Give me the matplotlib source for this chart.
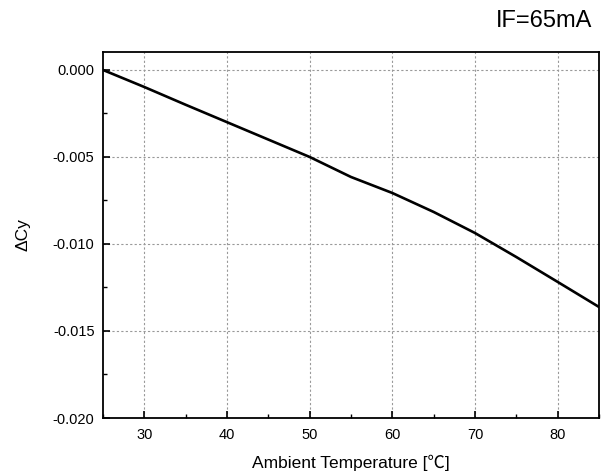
import matplotlib
matplotlib.use('Agg')
import matplotlib.pyplot as plt
from matplotlib.ticker import MultipleLocator

plt.rcParams['font.family'] = ['Liberation Sans', 'Noto Sans CJK SC', 'DejaVu Sans']

temperature = [25, 30, 35, 40, 45, 50, 55, 60, 65, 70, 75, 80, 85]
delta_cy = [0.0, -0.00098, -0.0020, -0.0030, -0.0040, -0.0050, -0.00615,
            -0.00707, -0.00816, -0.00937, -0.01075, -0.01218, -0.01362]

fig = plt.figure(figsize=(6.02, 4.75), dpi=100)
ax = fig.add_axes([0.171, 0.12, 0.824, 0.7705])

ax.plot(temperature, delta_cy, color='black', linewidth=1.9)

ax.set_xlim(25, 85)
ax.set_ylim(-0.020, 0.00103)
ax.xaxis.set_major_locator(MultipleLocator(10))
ax.xaxis.set_minor_locator(MultipleLocator(5))
ax.yaxis.set_major_locator(MultipleLocator(0.005))
ax.yaxis.set_minor_locator(MultipleLocator(0.0025))
ax.yaxis.set_major_formatter(plt.FuncFormatter(lambda v, p: f"{v:.3f}"))

ax.tick_params(which='major', direction='in', length=5, width=1.2, labelsize=10.5)
ax.tick_params(which='minor', direction='in', length=3, width=1.0)
ax.tick_params(axis='x', pad=7)
ax.tick_params(axis='y', pad=6)
ax.grid(True, which='major', linestyle=(0, (2, 2)), color='#999999', linewidth=0.8)

for s in ax.spines.values():
    s.set_linewidth(1.3)

ax.set_xlabel("Ambient Temperature [℃]", fontsize=12.5, labelpad=9)
ax.set_ylabel("ΔCy", fontsize=12.5, labelpad=16)

fig.text(0.983, 0.955, "IF=65mA", fontsize=17, ha='right', va='center')

fig.savefig("out.png", dpi=100)
